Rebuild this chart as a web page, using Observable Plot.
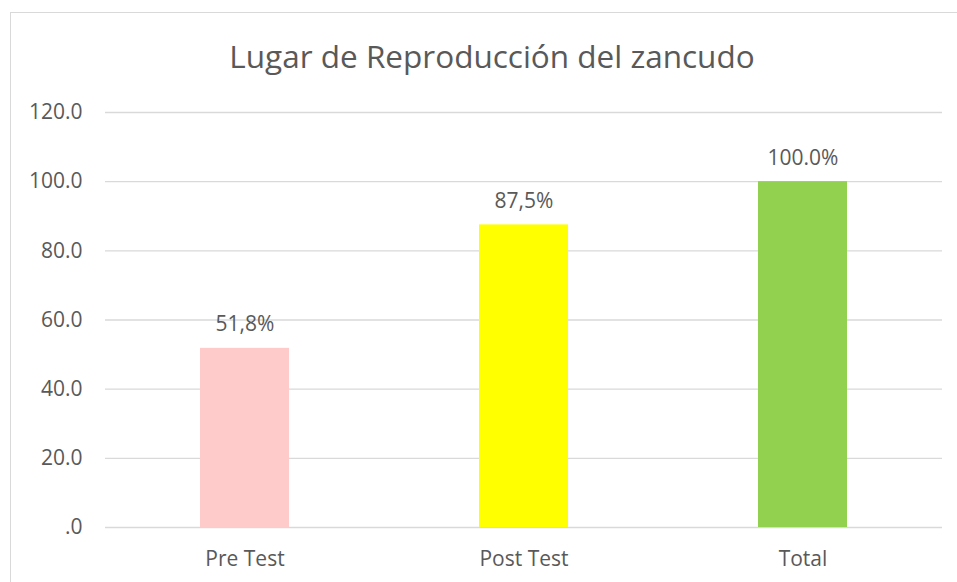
<!DOCTYPE html>
<html>
<head>
<meta charset="utf-8">
<script src="https://cdn.jsdelivr.net/npm/d3@7"></script>
<script src="https://cdn.jsdelivr.net/npm/@observablehq/plot@0.6"></script>
<style>
  html, body { margin: 0; padding: 0; background: #ffffff; }
  #wrap { position: relative; width: 957px; height: 582px; overflow: hidden; }
  #border { position: absolute; left: 10px; top: 12px; width: 1000px; height: 700px;
            border-left: 1px solid #d9d9d9; border-top: 1px solid #d9d9d9; pointer-events: none; z-index: 2; }
  #chart { position: absolute; left: 0; top: 0; }
</style>
</head>
<body>
<div id="wrap"><div id="chart"></div><div id="border"></div></div>
<script>
const title = "Lugar de Reproducción del zancudo";
const categories = ["Pre Test", "Post Test", "Total"];
const values = [51.8, 87.5, 100.0];
const valueLabels = ["51,8%", "87,5%", "100.0%"];
const barColors = ["#ffcaca", "#ffff00", "#92d050"];
const yTicks = [0, 20, 40, 60, 80, 100, 120];

const data = categories.map((c, i) => ({cat: c, value: values[i], label: valueLabels[i], color: barColors[i]}));

const textColor = "#595959";
const chart = Plot.plot({
  width: 957,
  height: 582,
  marginTop: 112,
  marginBottom: 55,
  marginLeft: 105,
  marginRight: 15,
  style: {fontFamily: "'Open Sans', sans-serif", fontSize: "21px", color: textColor, background: "transparent"},
  x: {domain: categories, paddingInner: 0.68, paddingOuter: 0.34, label: null},
  y: {domain: [0, 120], label: null},
  marks: [
    Plot.ruleY(yTicks, {stroke: "#d9d9d9", strokeWidth: 1.3}),
    Plot.barY(data, {x: "cat", y: "value", fill: d => d.color}),
    Plot.axisY({ticks: yTicks, tickSize: 0, tickPadding: 23, fontSize: 21, fill: textColor,
      tickFormat: d => d === 0 ? ".0" : d.toFixed(1), label: null}),
    Plot.axisX({tickSize: 0, tickPadding: 24, fontSize: 21, fill: textColor, label: null}),
    Plot.text(data, {x: "cat", y: "value", text: "label", lineAnchor: "bottom", dy: -17,
      fontSize: 21, fill: textColor}),
    Plot.text([title], {frameAnchor: "top", lineAnchor: "bottom", dy: -45, dx: -32,
      fontSize: 31.5, fill: textColor})
  ]
});
document.getElementById("chart").appendChild(chart);
</script>
</body>
</html>
